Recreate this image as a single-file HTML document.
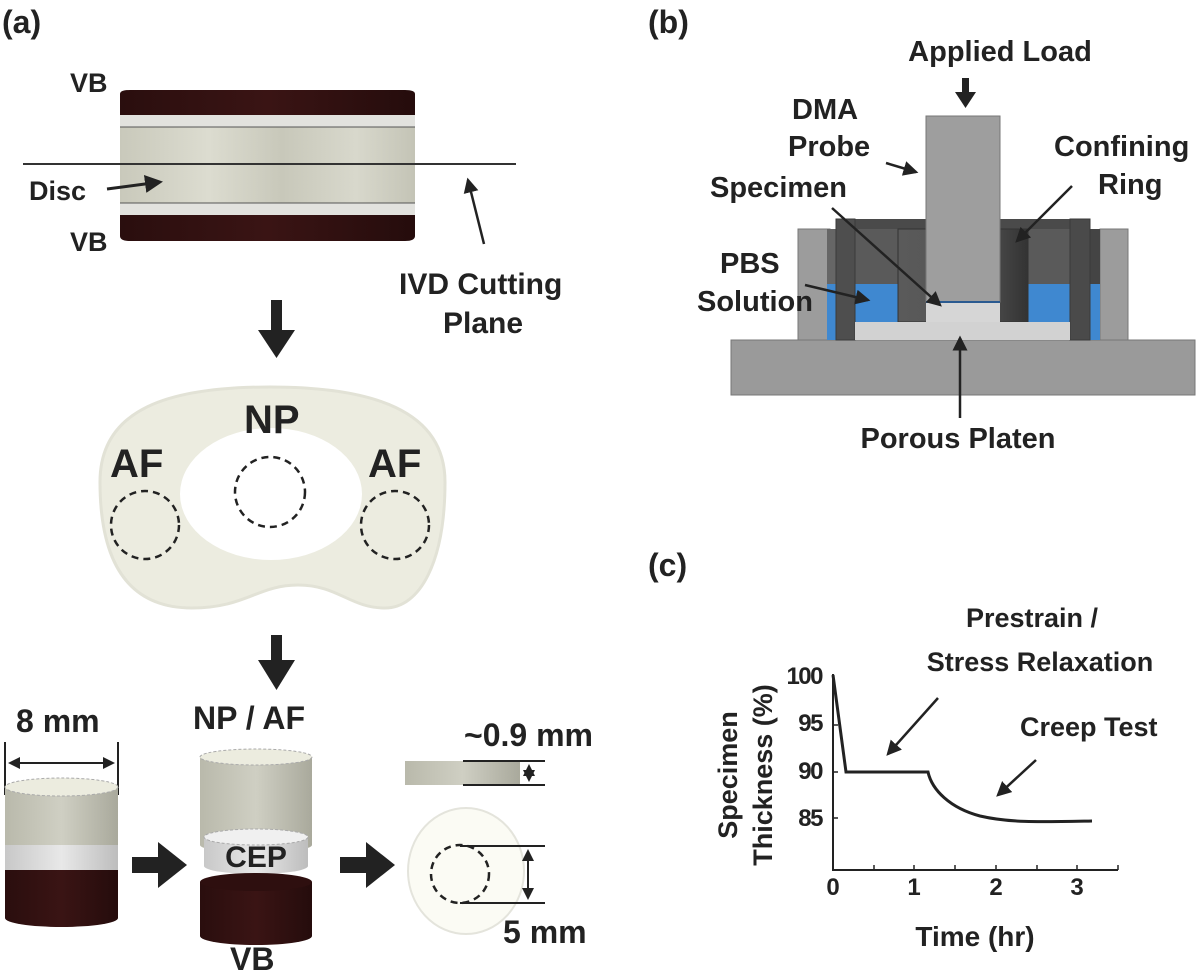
<!DOCTYPE html>
<html><head><meta charset="utf-8"><style>
html,body{margin:0;padding:0;background:#fff;}
svg{display:block;}
text{font-family:"Liberation Sans",Arial,sans-serif;font-weight:bold;fill:#222;}
</style></head><body>
<svg width="1200" height="975" viewBox="0 0 1200 975" xmlns="http://www.w3.org/2000/svg">
<defs>
<linearGradient id="disc" x1="0" x2="1" y1="0" y2="0">
<stop offset="0" stop-color="#c9c9bb"/><stop offset="0.3" stop-color="#dcdcd0"/><stop offset="0.55" stop-color="#c8c8ba"/><stop offset="0.8" stop-color="#d8d8cc"/><stop offset="1" stop-color="#c4c4b6"/></linearGradient>
<linearGradient id="vb" x1="0" x2="1"><stop offset="0" stop-color="#2a0e0e"/><stop offset="0.5" stop-color="#3a1414"/><stop offset="1" stop-color="#250c0c"/></linearGradient>
<linearGradient id="cyl" x1="0" x2="1"><stop offset="0" stop-color="#b9b9ab"/><stop offset="0.5" stop-color="#cfcfc3"/><stop offset="1" stop-color="#a9a99c"/></linearGradient>
<linearGradient id="cep" x1="0" x2="1"><stop offset="0" stop-color="#c8c8c8"/><stop offset="0.5" stop-color="#e8e8e8"/><stop offset="1" stop-color="#bdbdbd"/></linearGradient>
<linearGradient id="ring" x1="0" x2="1"><stop offset="0" stop-color="#5a5a5a"/><stop offset="0.6" stop-color="#555"/><stop offset="1" stop-color="#333"/></linearGradient>
<marker id="ah" markerWidth="6" markerHeight="6" refX="5" refY="3" orient="auto" markerUnits="strokeWidth"><path d="M0,0 L6,3 L0,6 Z" fill="#222"/></marker>
<marker id="ahs" markerWidth="6" markerHeight="6" refX="1" refY="3" orient="auto" markerUnits="strokeWidth"><path d="M6,0 L0,3 L6,6 Z" fill="#222"/></marker>
</defs>

<text x="2" y="33" font-size="32">(a)</text>
<text x="648" y="33" font-size="32">(b)</text>
<text x="648" y="576" font-size="32">(c)</text>

<!-- Panel a top -->
<path d="M120,94 Q120,90 130,90 L405,90 Q415,90 415,94 L415,115 L120,115 Z" fill="url(#vb)"/>
<rect x="120" y="115" width="295" height="12" fill="#e2e2de"/>
<rect x="120" y="127" width="295" height="76" fill="url(#disc)"/>
<rect x="120" y="203" width="295" height="12" fill="#e2e2de"/>
<path d="M120,215 L415,215 L415,236 Q415,241 405,241 L130,241 Q120,241 120,236 Z" fill="url(#vb)"/>
<line x1="120" y1="127" x2="415" y2="127" stroke="#555" stroke-width="1"/>
<line x1="120" y1="203" x2="415" y2="203" stroke="#555" stroke-width="1"/>
<line x1="23" y1="164" x2="516" y2="164" stroke="#333" stroke-width="2"/>
<text x="70" y="92" font-size="27">VB</text>
<text x="70" y="251" font-size="27">VB</text>
<text x="29" y="200" font-size="27">Disc</text>
<line x1="107" y1="189" x2="160" y2="182" stroke="#222" stroke-width="3" marker-end="url(#ah)"/>
<line x1="484" y1="244" x2="468" y2="180" stroke="#222" stroke-width="2.5" marker-end="url(#ah)"/>
<text x="399" y="294" font-size="30">IVD Cutting</text>
<text x="443" y="333" font-size="30">Plane</text>

<rect x="271" y="300" width="11" height="32" fill="#222"/>
<path d="M258,330 L295,330 L276.5,358 Z" fill="#222"/>

<!-- kidney -->
<path d="M100,482 C100,408 170,387 270,387 C372,387 445,410 445,482 C445,562 420,608 385,608 C350,608 338,585 298,585 C258,585 245,608 192,608 C130,608 100,565 100,482 Z" fill="#ecece0" stroke="#e2e2d6" stroke-width="3"/>
<ellipse cx="271" cy="494" rx="91" ry="66" fill="#fff"/>
<circle cx="145" cy="525" r="34" fill="none" stroke="#222" stroke-width="2.5" stroke-dasharray="7,5"/>
<circle cx="270" cy="492" r="35" fill="none" stroke="#222" stroke-width="2.5" stroke-dasharray="7,5"/>
<circle cx="395" cy="525" r="34" fill="none" stroke="#222" stroke-width="2.5" stroke-dasharray="7,5"/>
<text x="110" y="477" font-size="40">AF</text>
<text x="244" y="433" font-size="40">NP</text>
<text x="368" y="477" font-size="40">AF</text>

<rect x="271" y="635" width="11" height="28" fill="#222"/>
<path d="M258,660 L295,660 L276.5,690 Z" fill="#222"/>

<!-- cylinder 1 -->
<text x="16" y="732" font-size="32">8 mm</text>
<line x1="5" y1="742" x2="5" y2="795" stroke="#222" stroke-width="2"/>
<line x1="118" y1="742" x2="118" y2="795" stroke="#222" stroke-width="2"/>
<line x1="10" y1="763" x2="113" y2="763" stroke="#222" stroke-width="2" marker-end="url(#ah)" marker-start="url(#ahs)"/>
<path d="M5,870 L118,870 L118,918 A56.5,9 0 0 1 5,918 Z" fill="url(#vb)"/>
<rect x="5" y="845" width="113" height="25" fill="url(#cep)"/>
<rect x="5" y="787" width="113" height="58" fill="url(#cyl)"/>
<ellipse cx="61.5" cy="787" rx="56.5" ry="9" fill="#ececdf" stroke="#aaa" stroke-dasharray="3,2"/>

<rect x="132" y="857" width="28" height="16" fill="#222"/>
<path d="M158,842 L187,865 L158,888 Z" fill="#222"/>

<!-- cylinder 2 -->
<text x="193" y="729" font-size="32">NP / AF</text>
<path d="M200,757 L312,757 L312,845 A56,8 0 0 1 200,845 Z" fill="url(#cyl)"/>
<ellipse cx="256" cy="757" rx="56" ry="8" fill="#ececdf" stroke="#aaa" stroke-dasharray="3,2"/>
<path d="M204,837 L308,837 L308,866 A52,8 0 0 1 204,866 Z" fill="url(#cep)"/>
<ellipse cx="256" cy="837" rx="52" ry="8" fill="#f0f0f0" stroke="#aaa" stroke-dasharray="3,2"/>
<path d="M200,882 L312,882 L312,936 A56,9 0 0 1 200,936 Z" fill="url(#vb)"/>
<ellipse cx="256" cy="882" rx="56" ry="9" fill="#2e0f0f"/>
<text x="256" y="867" font-size="30" text-anchor="middle">CEP</text>
<text x="230" y="970" font-size="32">VB</text>

<rect x="340" y="857" width="28" height="16" fill="#222"/>
<path d="M366,842 L395,865 L366,888 Z" fill="#222"/>

<!-- slab -->
<text x="464" y="746" font-size="32">~0.9 mm</text>
<rect x="405" y="761" width="115" height="24" fill="url(#cyl)"/>
<line x1="463" y1="761" x2="545" y2="761" stroke="#222" stroke-width="2"/>
<line x1="463" y1="785" x2="545" y2="785" stroke="#222" stroke-width="2"/>
<line x1="529" y1="766" x2="529" y2="780" stroke="#222" stroke-width="2" marker-end="url(#ah)" marker-start="url(#ahs)"/>

<ellipse cx="466" cy="871" rx="58" ry="63" fill="#fbfbf4" stroke="#e4e4dc" stroke-width="2"/>
<circle cx="460" cy="874" r="29" fill="none" stroke="#222" stroke-width="2.5" stroke-dasharray="7,5"/>
<line x1="460" y1="846" x2="545" y2="846" stroke="#222" stroke-width="2"/>
<line x1="460" y1="903" x2="545" y2="903" stroke="#222" stroke-width="2"/>
<line x1="528" y1="851" x2="528" y2="898" stroke="#222" stroke-width="2" marker-end="url(#ah)" marker-start="url(#ahs)"/>
<text x="503" y="943" font-size="32">5 mm</text>

<!-- Panel b -->
<rect x="731" y="340" width="464" height="55" fill="#9a9a9a" stroke="#777"/>
<rect x="798" y="229" width="32" height="111" fill="#9c9c9c" stroke="#777"/>
<rect x="1100" y="229" width="28" height="111" fill="#9c9c9c" stroke="#777"/>
<rect x="827" y="229" width="273" height="111" fill="#5a5a5a"/>
<rect x="827" y="229" width="10" height="111" fill="#666"/>
<rect x="1090" y="229" width="10" height="111" fill="#444"/>
<rect x="827" y="284" width="71" height="56" fill="#3f88d0"/>
<rect x="1028" y="284" width="72" height="56" fill="#3f88d0"/>
<rect x="836" y="219" width="254" height="10" fill="#4a4a4a"/>
<rect x="836" y="219" width="19" height="121" fill="#4e4e4e" stroke="#3a3a3a"/>
<rect x="1070" y="219" width="20" height="121" fill="#4a4a4a" stroke="#3a3a3a"/>
<rect x="898" y="229" width="130" height="93" fill="url(#ring)" stroke="#333"/>
<rect x="855" y="322" width="215" height="18" fill="#d2d2d2"/>
<rect x="926" y="116" width="74" height="186" fill="#9e9e9e" stroke="#777"/>
<rect x="926" y="302" width="74" height="20" fill="#d6d6d6"/>
<line x1="926" y1="302" x2="1000" y2="302" stroke="#2a5a90" stroke-width="2"/>

<text x="1000" y="61" font-size="29" text-anchor="middle">Applied Load</text>
<rect x="962" y="78" width="7" height="16" fill="#222"/>
<path d="M955,92 L976,92 L965.5,108 Z" fill="#222"/>
<text x="792" y="119" font-size="29">DMA</text>
<text x="788" y="156" font-size="29">Probe</text>
<line x1="886" y1="163" x2="916" y2="172" stroke="#222" stroke-width="2.5" marker-end="url(#ah)"/>
<text x="1054" y="156" font-size="29">Confining</text>
<text x="1098" y="194" font-size="29">Ring</text>
<line x1="1072" y1="186" x2="1017" y2="241" stroke="#222" stroke-width="2.5" marker-end="url(#ah)"/>
<text x="710" y="197" font-size="29">Specimen</text>
<line x1="832" y1="208" x2="940" y2="305" stroke="#222" stroke-width="2.5" marker-end="url(#ah)"/>
<text x="720" y="273" font-size="29">PBS</text>
<text x="697" y="311" font-size="29">Solution</text>
<line x1="805" y1="285" x2="868" y2="300" stroke="#222" stroke-width="2.5" marker-end="url(#ah)"/>
<line x1="960" y1="418" x2="960" y2="338" stroke="#222" stroke-width="2.5" marker-end="url(#ah)"/>
<text x="958" y="448" font-size="29" text-anchor="middle">Porous Platen</text>

<!-- Panel c -->
<text x="1032" y="627" font-size="27" text-anchor="middle">Prestrain /</text>
<text x="1040" y="671" font-size="27" text-anchor="middle">Stress Relaxation</text>
<line x1="938" y1="698" x2="888" y2="754" stroke="#222" stroke-width="2.5" marker-end="url(#ah)"/>
<text x="1020" y="736" font-size="27">Creep Test</text>
<line x1="1036" y1="760" x2="998" y2="795" stroke="#222" stroke-width="2.5" marker-end="url(#ah)"/>
<text transform="translate(737,775) rotate(-90)" font-size="27" text-anchor="middle">Specimen</text>
<text transform="translate(772,775) rotate(-90)" font-size="27" text-anchor="middle">Thickness (%)</text>
<g font-size="24" text-anchor="end" letter-spacing="-1.5">
<text x="822" y="684">100</text><text x="822" y="731">95</text><text x="822" y="779">90</text><text x="822" y="826">85</text>
</g>
<g font-size="24" text-anchor="middle">
<text x="833" y="895">0</text><text x="914" y="895">1</text><text x="996" y="895">2</text><text x="1077" y="895">3</text>
</g>
<text x="975" y="946" font-size="28" text-anchor="middle">Time (hr)</text>
<path d="M833,674 L833,870 L1118,870" fill="none" stroke="#222" stroke-width="2"/>
<g stroke="#222" stroke-width="1.5">
<line x1="874" y1="870" x2="874" y2="865"/><line x1="914" y1="870" x2="914" y2="865"/><line x1="955" y1="870" x2="955" y2="865"/><line x1="996" y1="870" x2="996" y2="865"/><line x1="1037" y1="870" x2="1037" y2="865"/><line x1="1077" y1="870" x2="1077" y2="865"/><line x1="1118" y1="870" x2="1118" y2="865"/>
<line x1="833" y1="725" x2="838" y2="725"/><line x1="833" y1="772" x2="838" y2="772"/><line x1="833" y1="818" x2="838" y2="818"/>
</g>
<path d="M833,675 L846,772 L928,772 C932,790 950,808 980,816 C1010,823 1040,822 1092,821" fill="none" stroke="#222" stroke-width="3"/>
</svg>
</body></html>
